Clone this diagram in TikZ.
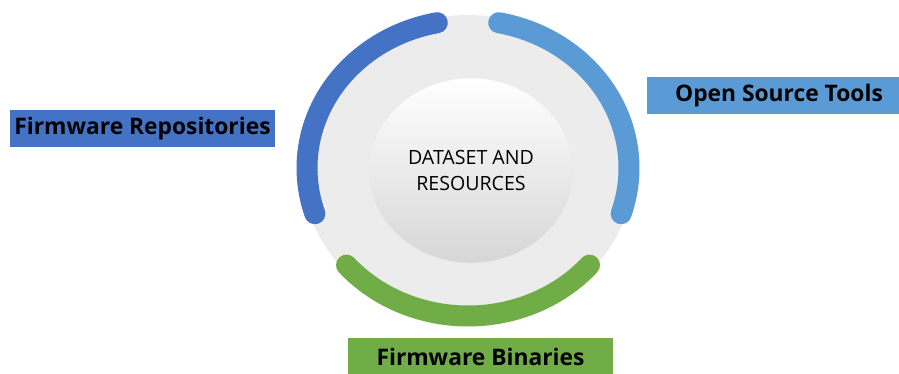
\documentclass[tikz,border=0pt]{standalone}
\usepackage{fontspec}
\setmainfont{Open Sans}
\usepackage{tikz}
\usetikzlibrary{shapes, positioning}
\definecolor{repoblue}{HTML}{4472C4}
\definecolor{toolblue}{HTML}{5B9BD5}
\definecolor{bingreen}{HTML}{70AD47}
\definecolor{ringgray}{HTML}{EDECEC}

\begin{document}
\begin{tikzpicture}[x=1pt, y=1pt,
    tagbox/.style={minimum width=265pt, minimum height=37pt, inner sep=0pt,
      font=\fontsize{22.8}{26}\selectfont\bfseries, text=black},
    ring/.style={line width=21pt, line cap=round}]
  \useasboundingbox (0,0) rectangle (899,-374);
  \coordinate (c) at (468,-168);
  % grey disc with the three coloured arcs
  \fill[ringgray] (c) ellipse [x radius=166, y radius=153];
  \draw[ring, repoblue] (c) ++(101:161 and 148) arc [start angle=101, end angle=198, x radius=161, y radius=148];
  \draw[ring, bingreen] (c) ++(221:161 and 148) arc [start angle=221, end angle=319, x radius=161, y radius=148];
  \draw[ring, toolblue] (c) ++(-18:161 and 148) arc [start angle=-18, end angle=79, x radius=161, y radius=148];
  \node[ellipse, minimum width=204pt, minimum height=185pt, top color=white, bottom color=black!16,
    draw=black!8, align=center, font=\fontsize{19.6}{25}\selectfont] (core) at (471,-170.5) {DATASET AND\\RESOURCES};
  \node[tagbox, fill=repoblue] (repos) at (142.5,-128.5) {Firmware Repositories};
  \node[tagbox, fill=toolblue] (tools) at (779,-95.5) {Open Source Tools};
  \node[tagbox, fill=bingreen] (binaries) at (480.5,-356.5) {Firmware Binaries};
\end{tikzpicture}
\end{document}
